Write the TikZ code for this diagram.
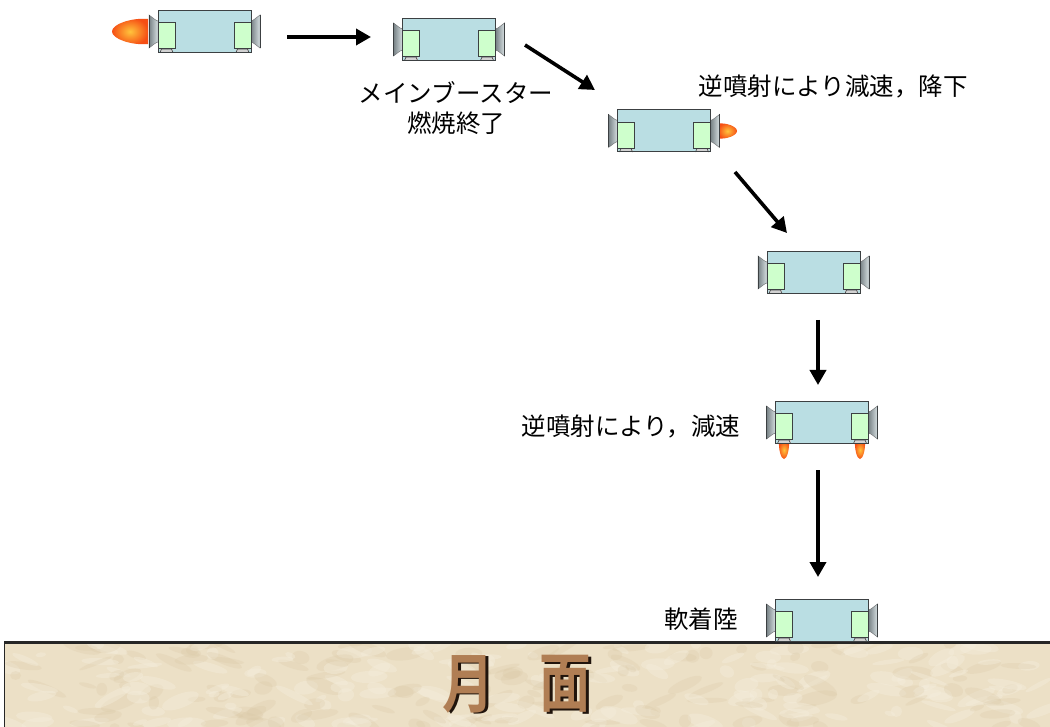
\documentclass[tikz,border=0pt]{standalone}
\usepackage{fontspec}
\newfontfamily\jp{Noto Sans CJK JP}
\newfontfamily\jpbold{Noto Sans CJK JP Bold}
\usetikzlibrary{arrows.meta}

\definecolor{bodyfill}{RGB}{186,222,227}
\definecolor{boxfill}{RGB}{206,255,204}
\definecolor{edge}{RGB}{60,64,66}
\definecolor{nozdark}{RGB}{120,130,134}
\definecolor{nozlight}{RGB}{215,224,226}
\definecolor{flameout}{RGB}{246,78,20}
\definecolor{flamein}{RGB}{255,196,60}
\definecolor{parch}{RGB}{236,224,198}
\definecolor{parchlight}{RGB}{246,240,224}
\definecolor{parchdark}{RGB}{214,196,160}
\definecolor{moonbrown}{RGB}{176,126,84}
\definecolor{moonshadow}{RGB}{32,20,12}

% a big glyph with a dark drop shadow behind it
\newcommand\shadowglyph[1]{\rlap{\kern3.5pt\raisebox{-1.5pt}{\color{moonshadow}#1}}{\color{moonbrown}#1}}

\tikzset{
  x=1pt, y=-1pt,
  caption/.style={font=\jp\fontsize{24.5}{30}\selectfont, inner sep=0pt, align=center},
  flow/.style={line width=3.6pt, -{Triangle[length=15pt,width=16pt]}},
  surface text/.style={font=\jpbold\fontsize{60}{62}\selectfont, inner sep=0pt, xscale=0.86, yscale=1.08},
  % rocket exhaust, pointing along +x, unit length and unit width
  flame/.pic={
    \shade[inner color=flamein, outer color=flameout]
      (0,-0.5) .. controls (0.45,-0.56) and (1,-0.3) .. (1,0)
      .. controls (1,0.3) and (0.45,0.56) .. (0,0.5) -- cycle;
  },
  % one nozzle on the left side of the body
  nozzle/.pic={
    \shade[left color=nozdark, right color=nozlight, draw=edge!70, line width=0.5pt]
      (-55.5,-16.5) .. controls (-52,-14) and (-49,-11) .. (-46.5,-10.5)
      -- (-46.5,10.5) .. controls (-49,11) and (-52,14) .. (-55.5,16.5) -- cycle;
    \draw[edge, line width=0.8pt] (-55.5,-16.5) -- (-55.5,16.5);
  },
  % the lander: body, two side nozzles, two hatches and their feet
  lander/.pic={
    \pic {nozzle};
    \pic[xscale=-1] {nozzle};
    \fill[bodyfill] (-46.5,-21) rectangle (46.5,21);
    \foreach \cx in {-38,38}{
      \fill[gray!35] (\cx-6.5,17) rectangle (\cx+6.5,21);
      \draw[edge, line width=0.6pt] (\cx-6.5,21) -- (\cx-5,17.5) -- (\cx+5,17.5) -- (\cx+6.5,21);
      \draw[edge, fill=boxfill, line width=0.8pt] (\cx-8.5,-9) rectangle (\cx+8.5,17);
    }
    \draw[edge, line width=1pt] (-46.5,-21) rectangle (46.5,21);
  }
}

\begin{document}
\begin{tikzpicture}
\useasboundingbox (0,0) rectangle (1050,727);
\fill[white] (0,0) rectangle (1050,727);

% lunar surface with a soft mottled parchment texture
\begin{scope}
  \clip (4,643) rectangle (1052,729);
  \fill[parch] (4,643) rectangle (1052,729);
  \pgfmathsetseed{4217}
  \foreach \i in {1,...,320}{
    \pgfmathsetmacro{\px}{4+1046*rnd}
    \pgfmathsetmacro{\py}{643+86*rnd}
    \pgfmathsetmacro{\rx}{5+16*rnd}
    \pgfmathsetmacro{\ry}{2+5*rnd}
    \pgfmathsetmacro{\ang}{-30+60*rnd}
    \pgfmathsetmacro{\pick}{rnd}
    \ifdim\pick pt<0.55pt
      \fill[parchlight, opacity=0.35, rotate around={\ang:(\px,\py)}] (\px,\py) ellipse [x radius=\rx, y radius=\ry];
    \else
      \fill[parchdark, opacity=0.22, rotate around={\ang:(\px,\py)}] (\px,\py) ellipse [x radius=\rx, y radius=\ry];
    \fi
  }
\end{scope}
\draw[black!85, line width=1pt] (4.5,643) -- (4.5,729);
\draw[black!85, line width=3pt] (4,642.5) -- (1052,642.5);

\node[surface text] (moonA) at (468,685) {\shadowglyph{月}};
\node[surface text] (moonB) at (565,685) {\shadowglyph{面}};

% flames (drawn before the landers so the nozzles cover their roots)
\pic[rotate=180, xscale=36, yscale=25] at (148,31.5) {flame};
\pic[xscale=19, yscale=15] at (718,131) {flame};
\pic[rotate=-90, xscale=18, yscale=10] at (784,441) {flame};
\pic[rotate=-90, xscale=18, yscale=10] at (860,441) {flame};

% the landers along the descent
\pic (v1) at (204.5,31.5) {lander};
\pic (v2) at (449,39.5) {lander};
\pic (v3) at (664,131) {lander};
\pic (v4) at (813.5,272.5) {lander};
\pic (v5) at (822,422.5) {lander};
\pic (v6) at (822,620.5) {lander};

% arrow end points
\coordinate (a1s) at (287,37);  \coordinate (a1e) at (371,37);
\coordinate (a2s) at (525,45);  \coordinate (a2e) at (595,90);
\coordinate (a3s) at (735,172); \coordinate (a3e) at (787,233);
\coordinate (a4s) at (818,320); \coordinate (a4e) at (818,385);
\coordinate (a5s) at (818,470); \coordinate (a5e) at (818,577);
\draw[flow] (a1s) -- (a1e);
\draw[flow] (a2s) -- (a2e);
\draw[flow] (a3s) -- (a3e);
\draw[flow] (a4s) -- (a4e);
\draw[flow] (a5s) -- (a5e);

% captions
\node[caption] (t1) at (456,93) {メインブースター};
\node[caption] (t2) at (456,123) {燃焼終了};
\node[caption] (t3) at (833,87) {逆噴射により減速，降下};
\node[caption] (t4) at (631,427) {逆噴射により，減速};
\node[caption] (t5) at (701,619) {軟着陸};
\end{tikzpicture}
\end{document}
